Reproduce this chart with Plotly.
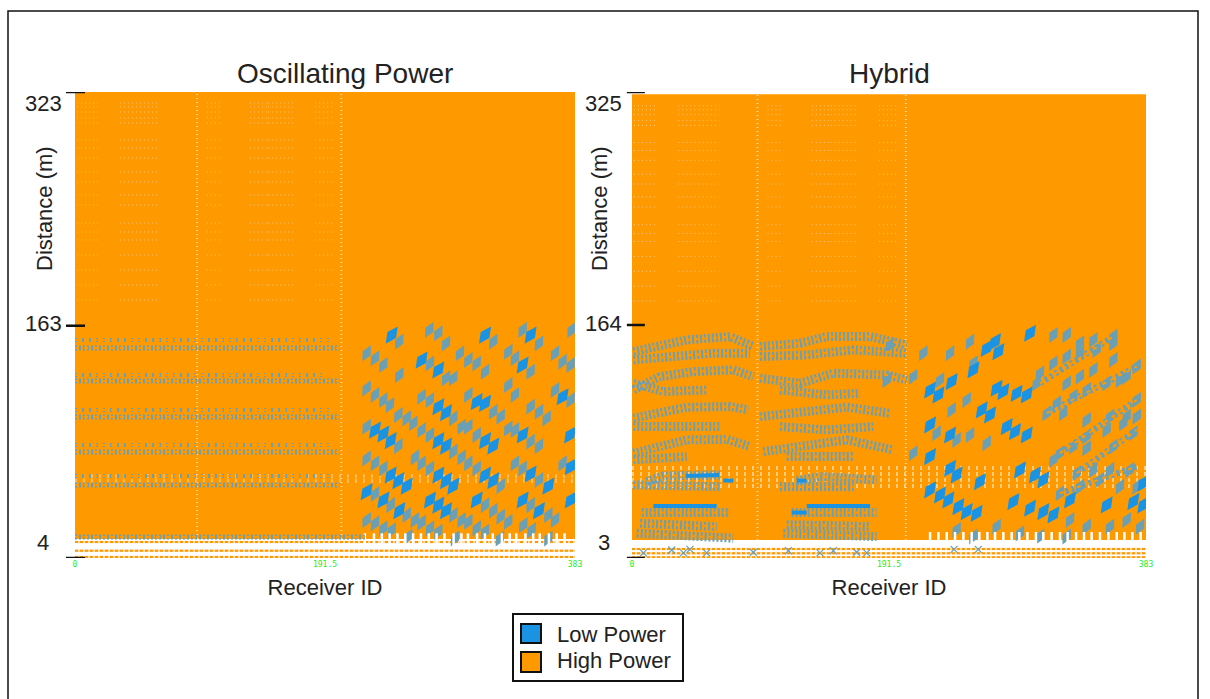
import plotly.graph_objects as go

ORANGE = "#FF9900"; BLUE = "#1A94E2"; MUTED = "#6B9FB4"; INK = "#222222"
X_MAX = 383
Y_RANGE_L = [4, 323]; Y_RANGE_R = [3, 325]
Y_TICKS_L = [323, 163, 4]; Y_TICKS_R = [325, 164, 3]
X_TICKS = [0, 191.5, 383]
SOLID_L = [17, 323]; SOLID_R = [15.4, 323.5]
LOW_ROWS_L = [14.9, 9.0, 4.6]; LOW_ROWS_R = [9.2, 6.2, 3.6]

# horizontal low-power bands, left panel
BANDS_L_Y = [147.7, 153.2, 125.2, 129.3, 100.5, 105.3, 76.6, 81.3, 54.0, 60.1, 18.4]
BANDS_L_X1 = [203, 195, 203, 190, 203, 195, 203, 195, 203, 195, 222]

# slanted low-power clusters, left panel
L_STRONG_X = [242.6,314.1,349,265.5,278.3,342.9,278.3,284.2,307.7,314.1,373.5,229.8,236.2,241.8,278.3,284.2,314.1,320.4,342.9,379.2,241.8,247.7,254.1,278.3,284.2,289.8,314.1,320.4,349,362.6,379.7,223.4,236.2,248.4,278.3,284.2,271.9,307.7,342.9,355.4,379.7]
L_STRONG_Y = [156.6,156.6,156.6,139.5,132.7,136.1,107.6,103.5,111,109.9,114.4,91.6,88.9,84.3,84.3,80.6,84.3,80.6,88.2,88.2,60.8,56.9,53.2,60.8,56.9,53.2,60.8,56.9,61.5,53.2,66.5,49.4,43.7,36.4,40.2,36.4,43.7,43.7,43.7,36.4,43.7]
L_MILD_X = [248.4,223.4,229.8,271.9,236.2,248.4,284.2,294.9,301.3,307.7,314.1,271.4,278.3,320.4,331.9,337,349,342.9,355.4,367.7,373.5,379.7,380.4,223.4,229.8,236.2,241.3,247.7,254.1,265.5,271.9,289.8,296.2,289.8,284.2,301.3,320.4,326.1,331.9,337,349,355.4,361.3,367.7,379.7,223.4,247.7,259.2,265.5,271.9,289.8,307.7,301.3,331.9,337,349,355.4,223.4,229.8,236.2,260.4,265.5,271.9,296.2,301.3,307.7,326.1,337,342.9,355.4,373.5,229.8,241.8,254.1,260.4,265.5,289.8,296.2,301.3,314.1,320.4,326.1,331.9,349,362.6,367.7,223.4,229.8,236.2,242.6,255.3,271.9,278.3,291.1,307.7,314.1,325.5,343.4,349.8,362.6]
L_MILD_Y = [152.1,144.1,140.7,137.2,136.1,129.2,150.9,144.1,139.5,137.2,131.5,160.1,157.8,152.1,145.2,140.7,131.5,160.1,150.9,144.1,138.4,136.1,160.1,120.1,115.6,112.1,108.7,101.9,99.6,114.4,112.1,99.6,93.9,127,127,115.6,104.1,100.7,122.4,115.6,107.6,104.1,99.6,119,112.1,93.9,80.6,96.2,91.6,88.2,76.8,88.2,93.9,92.7,91.6,83.6,80.6,72.2,68.8,65.3,72.9,68.8,65.3,72.9,68.8,65.3,53.2,68.8,65.3,57.4,68.8,47.8,40.2,33.4,30,28.2,33.4,30,28.8,40.2,36.4,32.3,28.8,40.2,33.4,30,30,27.7,24.3,23.1,18.6,24.3,22,17.4,24.3,22,17.4,26.6,23.1,17.4]

# slanted low-power clusters, right panel
R_STRONG_X = [270.5,264.3,273,254.4,222.1,238.2,228.3,271.7,276.7,286.6,294.1,260.6,266.8,279.2,285.4,294.1,237,222.1,222.1,237,241.9,259.3,289.1,300.3,306.5,222.1,229.5,235.7,243.2,249.4,256.8,284.2,296.6,306.5,314,326.4,353.7,373.6,381,296.6,381]
R_STRONG_Y = [152.5,147.9,145.6,133,119.1,124.9,115.7,120.3,118,116.8,115.7,105.3,101.9,93.8,90.3,88,88,95,73.1,65,60.4,55.8,63.9,60.4,57,50.1,46.6,43.1,38.5,35.1,33.9,42,37.4,35.1,32.8,43.1,39.7,42,39.7,158.3,54.7]
R_MILD_X = [333.8,343.8,358.7,314,323.9,304,314,323.9,333.8,346.3,358.7,301.5,323.9,333.8,343.8,358.7,368.6,316.5,328.9,338.8,353.7,363.6,376.1,309,321.4,338.8,356.2,368.6,376.1,318.9,328.9,338.8,353.7,366.1,376.1,314,338.8,358.7,373.6,331.4,343.8,356.2,371.1,318.9,333.8,348.7,363.6,376.1,326.4,338.8,356.2,368.6,378.6,241.9,254.4,271.7,289.1,304,323.9,192.3,217.1,237,251.9,209.6,189.8,249.4,254.4,229.5,238.2,227,251.9,264.3,209.6,241.9]
R_MILD_Y = [151.4,153.7,156,157.1,157.1,130.7,137.6,142.2,144.5,146.8,151.4,123.7,123.7,128.3,133,139.9,128.3,109.9,114.5,119.1,123.7,126,135.3,103,103,98.4,100.7,100.7,112.2,75.4,80,86.9,91.5,96.1,100.7,70.8,78.8,80,89.2,61.6,63.9,63.9,63.9,47.7,52.3,57,52.3,52.3,29.3,24.7,24.7,29.3,24.7,22.4,17.8,24.7,20.1,17.8,17.8,150.2,144.5,144.5,152.5,128.3,126,112.2,137.6,126,105.3,89.2,88,82.3,75.4,84.6]

# rising speckled bands at the right of the right panel
R_RISE_X = [304,358.7,None,309,376.1,None,318.9,376.1,None,331.4,376.1,None,318.9,376.1]
R_RISE_Y = [123.7,156,None,103,135.3,None,75.4,112.2,None,61.6,91.5,None,47.7,66.2]

# speckled arched bands, right panel (None separates bands)
ARCH_X = [1,20.9,40.7,73,90.4,None,95.4,125.2,145.1,177.4,204.7,None,1,28.3,60.6,87.9,None,95.4,130.2,165,204.7,None,1,20.9,45.7,75.5,90.4,None,95.4,125.2,150,189.8,204.7,None,1,23.4,55.6,None,110.3,145.1,169.9,None,1,18.4,40.7,73,86.7,None,95.4,130.2,160,192.3,None,1,35.8,65.6,None,110.3,145.1,179.8,None,1,18.4,40.7,70.5,87.9,None,97.9,130.2,160,194.8,None,1,40.7,None,115.3,165,None,11,23.4,65.6,None,122.7,140.1,182.3,None,1,65.6,None,110.3,165,None,6,63.1,None,115.3,177.4,None,3.5,75.5,None,112.8,182.3,None,7.2,73,None,119,182.3]
ARCH_Y = [145.6,150.2,153.7,156,149.1,None,149.1,151.4,156,156,150.2,None,139.9,142.2,144.5,144.5,None,142.2,143.3,146.8,144.5,None,119.1,128.3,131.8,133,128.3,None,127.2,123.7,130.7,129.5,126,None,123.7,118,119.1,None,119.1,115.7,116.8,None,99.6,103,107.2,107.6,105.3,None,100.7,104.2,107.2,103,None,93.8,93.8,93.8,None,93.8,91.5,93.8,None,75.4,78.8,84.6,85,80,None,76.5,81.1,84.6,77.7,None,70.8,73.1,None,73.1,73.1,None,55.8,59.7,60.4,None,56.5,59.3,57,None,53.5,52.3,None,52.3,52.3,None,27,24.7,None,26,24.7,None,20.1,16.7,None,20.1,17.8,None,34.4,34.4,None,34.4,34.4]
ARCH_STRONG_X = [15.9,63.1,None,130.2,177.4,None,119,130.2,None,68,75.5,None,122.7,130,None,40,65]
ARCH_STRONG_Y = [39,39,None,39,39,None,34.4,34.4,None,56.5,56.5,None,56.5,56.5,None,59.7,60.4]
R_BOTTOM_X = [8.5,29.6,38.3,43.2,55.6,90.4,116.5,140.1,150,167.4,174.9,240,258]
R_BOTTOM_Y = [6.5,8.5,6.5,9,6.5,7,8,6.5,8,7,6.5,9,9]

# white gaps in the cloud
GAP_COLS = [93.5, 204]
GAP_ROWS = [315.5,312.7,309.3,305.2,301.8,290.1,284.6,277.8,268.2,261.4,252.5,245.6,233.3,227.2,221.7,211.4,201.1,190.9,180.6]
GAP_X0 = [1.5,34.5,49.8,101,134,148,184]
GAP_X1 = [17.6,47.5,65.1,113,148,167,199]
COMB_L = [222,229,235,241,247,253,259,265,271,277,283,290,296,301,308,314,320,327,333,338,345,351,356,363,369,375]
COMB_R = [222.1,228.3,234.5,240.7,246.9,253.1,258.8,264.8,270.5,276.7,282.9,288.6,294.6,301,306.5,312.7,318.9,324.6,330.9,336.8,342.5,348.7,355,361.2,366.9,372.8,379]
WHITE_BAND_L = [60, 56.7]; WHITE_BAND_R = [65.2, 61, 56.9, 52.8]
LEGEND_LABELS = ["Low Power", "High Power"]

fig = go.Figure()


def add(xa, ya, x, y, **kw):
    fig.add_trace(go.Scatter(x=x, y=y, xaxis=xa, yaxis=ya, showlegend=False, hoverinfo="skip", **kw))


def mottle(xa, ya, x, y):
    add(xa, ya, x, y, mode="lines", connectgaps=False, line=dict(color=ORANGE, width=2, dash="4px,5px"))


def panel(xa, ya, solid, low_rows, white_band, white_op, comb, strong, mild):
    add(xa, ya, [0, X_MAX, X_MAX, 0, 0], [solid[0], solid[0], solid[1], solid[1], solid[0]],
        mode="lines", fill="toself", fillcolor=ORANGE, line=dict(width=0), name=LEGEND_LABELS[1])
    for r in low_rows:
        add(xa, ya, [0, X_MAX], [r, r], mode="lines", line=dict(color="#FFDCA8", width=2.5))
        add(xa, ya, [0, X_MAX], [r, r], mode="lines", line=dict(color=ORANGE, width=2, dash="3px,2px"))
    gx, gy = [], []
    for r in GAP_ROWS:
        for a, b in zip(GAP_X0, GAP_X1):
            gx += [a, b, None]; gy += [r, r, None]
    add(xa, ya, gx, gy, mode="lines", opacity=0.45, line=dict(color="white", width=1, dash="1px,3px"))
    cx, cy = [], []
    for c in GAP_COLS:
        cx += [c, c, None]; cy += [solid[0], solid[1], None]
    add(xa, ya, cx, cy, mode="lines", opacity=0.6, line=dict(color="white", width=2, dash="1px,3px"))
    for r in white_band:
        add(xa, ya, [0, X_MAX], [r, r], mode="lines", opacity=white_op, line=dict(color="white", width=4, dash="2px,6px"))
    add(xa, ya, mild[0], mild[1], mode="markers",
        marker=dict(symbol="diamond-tall", angle=28, size=13, color=MUTED, line=dict(width=0)))
    add(xa, ya, strong[0], strong[1], mode="markers", name=LEGEND_LABELS[0],
        marker=dict(symbol="diamond-tall", angle=35, size=15, color=BLUE, line=dict(width=0)))
    add(xa, ya, comb, [16.6] * len(comb), mode="markers",
        marker=dict(symbol="line-ns", size=9, line=dict(width=2.5, color="white")))


panel("x", "y", SOLID_L, LOW_ROWS_L, WHITE_BAND_L, 0.35, COMB_L, (L_STRONG_X, L_STRONG_Y), (L_MILD_X, L_MILD_Y))
for i, y in enumerate(BANDS_L_Y):
    add("x", "y", [0, BANDS_L_X1[i]], [y, y], mode="lines",
        line=dict(color=MUTED, width=5 if i % 2 == 0 else 4, dash="2px,2px" if i % 2 == 0 else "2px,5px"))
    mottle("x", "y", [0, BANDS_L_X1[i]], [y, y])

panel("x2", "y2", SOLID_R, LOW_ROWS_R, WHITE_BAND_R, 0.5, COMB_R, (R_STRONG_X, R_STRONG_Y), (R_MILD_X, R_MILD_Y))
add("x2", "y2", ARCH_X, ARCH_Y, mode="lines", connectgaps=False,
    line=dict(color=MUTED, width=9, dash="2px,2px"))
mottle("x2", "y2", ARCH_X, ARCH_Y)
add("x2", "y2", R_RISE_X, R_RISE_Y, mode="lines", connectgaps=False,
    line=dict(color=MUTED, width=6, dash="3px,3px"))
mottle("x2", "y2", R_RISE_X, R_RISE_Y)
add("x2", "y2", ARCH_STRONG_X, ARCH_STRONG_Y, mode="lines", connectgaps=False, line=dict(color=BLUE, width=4))
add("x2", "y2", R_BOTTOM_X, R_BOTTOM_Y, mode="markers",
    marker=dict(symbol="x-thin", size=7, line=dict(width=1.2, color=MUTED)))

W, H = 1210, 699
axis_x = dict(range=[0, X_MAX], tickmode="array", tickvals=X_TICKS, ticktext=["0", "191.5", "383"],
              showgrid=False, zeroline=False, showline=False, ticks="",
              tickfont=dict(color="#22EE22", size=8, family="DejaVu Sans Mono"),
              title=dict(text="Receiver ID", font=dict(size=22, color=INK), standoff=11), automargin=False)
axis_y = dict(showgrid=False, zeroline=False, showline=False, ticks="", showticklabels=False, automargin=False)
fig.update_layout(
    width=W, height=H, margin=dict(l=0, r=0, t=0, b=0), paper_bgcolor="white", plot_bgcolor="white",
    showlegend=False,
    font=dict(family="Liberation Sans, Arial, sans-serif", color=INK),
    xaxis=dict(axis_x, domain=[75 / W, 575 / W], anchor="y"),
    xaxis2=dict(axis_x, domain=[632 / W, 1146 / W], anchor="y2"),
    yaxis=dict(axis_y, domain=[1 - 558 / H, 1 - 92 / H], range=Y_RANGE_L, anchor="x"),
    yaxis2=dict(axis_y, domain=[1 - 558 / H, 1 - 92 / H], range=Y_RANGE_R, anchor="x2"),
)

shapes = [dict(type="rect", xref="paper", yref="paper", x0=8 / W, x1=1198 / W, y0=-0.05, y1=1 - 11 / H,
               line=dict(color="#111", width=1.5), layer="below")]
annotations = []
for xd, yd, ticks, cx, (t0, t1) in (("x domain", "y", Y_TICKS_L, -0.064, (-0.018, 0.02)),
                                    ("x2 domain", "y2", Y_TICKS_R, -0.0545, (-0.01, 0.025))):
    for t, shift in zip(ticks, (-11, 2, 16)):
        shapes.append(dict(type="line", xref=xd, yref=yd, x0=t0, x1=t1, y0=t, y1=t, line=dict(color="#111", width=2.5)))
        annotations.append(dict(xref=xd, yref=yd, x=cx, y=t, yshift=shift, text=str(t), showarrow=False,
                                xanchor="center", yanchor="middle", font=dict(size=22, color=INK)))


def note(px, py, text, size, anchor="center", angle=0):
    annotations.append(dict(xref="paper", yref="paper", x=px / W, y=1 - py / H, text=text, showarrow=False,
                            xanchor=anchor, yanchor="middle", textangle=angle, font=dict(size=size, color=INK)))


def box(px0, py0, px1, py1, fill, width):
    shapes.append(dict(type="rect", xref="paper", yref="paper", x0=px0 / W, x1=px1 / W, y0=1 - py1 / H, y1=1 - py0 / H,
                       fillcolor=fill, line=dict(color="#111", width=width)))


note(345, 73, "Oscillating Power", 28)
note(889, 73, "Hybrid", 28)
note(44, 209, "Distance (m)", 22, angle=-90)
note(599, 209, "Distance (m)", 22, angle=-90)
box(513, 614, 683, 681, "white", 2)
box(521, 624, 541, 643, BLUE, 2)
box(521, 652, 541, 672, ORANGE, 2)
note(555, 634, LEGEND_LABELS[0], 22, anchor="left")
note(555, 660, LEGEND_LABELS[1], 22, anchor="left")
fig.update_layout(shapes=shapes, annotations=annotations)
fig.write_html("out.html", config={"displayModeBar": False},
               post_script="document.body.style.margin='0';document.body.style.overflow='hidden';")
